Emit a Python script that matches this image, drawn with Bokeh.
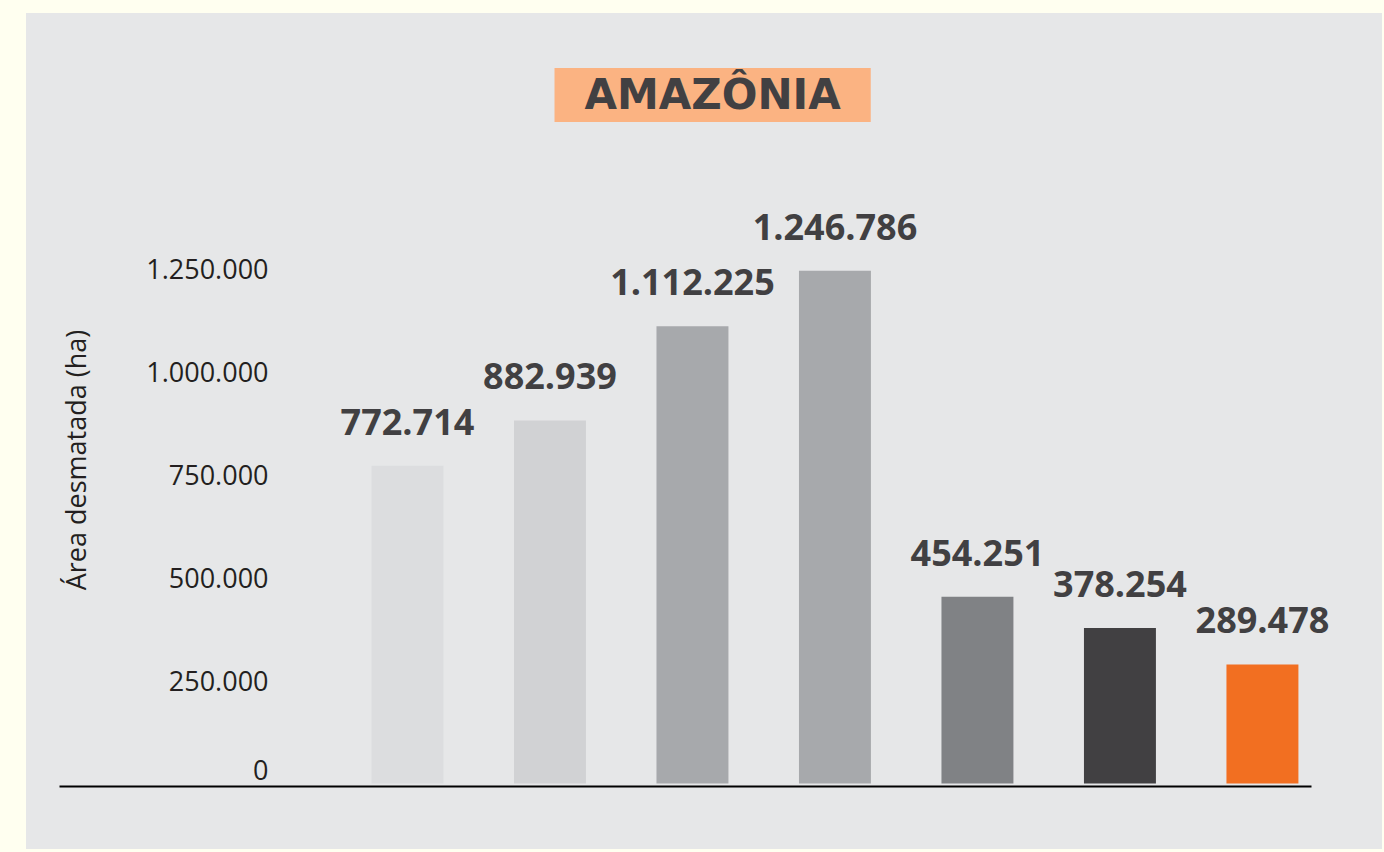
from bokeh.plotting import figure
from bokeh.models import Range1d, LinearAxis, FixedTicker, ColumnDataSource, Spacer
from bokeh.layouts import row, column
from bokeh.embed import file_html
from bokeh.resources import INLINE
from bokeh.core.properties import value

# ---- data ----
bar_values = [772714, 882939, 1112225, 1246786, 454251, 378254, 289478]
bar_colors = ["#dcdddf", "#d1d2d4", "#a7a9ac", "#a7a9ac", "#808285", "#414042", "#f26f21"]
bar_index = list(range(len(bar_values)))
bar_labels = [f"{v:,}".replace(",", ".") for v in bar_values]

y_ticks = [250000, 500000, 750000, 1000000, 1250000]
y_tick_labels = ["250.000", "500.000", "750.000", "1.000.000", "1.250.000"]
zero_ticks = [0]
zero_tick_labels = ["0"]

title_text = "AMAZÔNIA"
y_label = "Área desmatada (ha)"

PANEL = "#e6e7e8"
IVORY = "#fffff0"
DARK = "#414042"

Y0, Y1 = -7300, 1580700
X0, X1 = -2.442, 6.611
AXIS_X = -0.905

p = figure(width=1356, height=836, output_backend="svg", toolbar_location=None,
           x_range=Range1d(X0, X1), y_range=Range1d(Y0, Y1),
           y_axis_location=None, title=title_text,
           min_border_left=33, min_border_right=33, min_border_top=120, min_border_bottom=63)
p.background_fill_color = None
p.border_fill_color = PANEL
p.styles = {"background-color": PANEL}
p.outline_line_color = None
p.xgrid.visible = False
p.ygrid.visible = False

# title box
p.title.align = "left"
p.title.offset = 495
p.title.vertical_align = "bottom"
p.title.standoff = 23
p.title.text_font = "DejaVu Sans"
p.title.text_font_style = "bold"
p.title.text_font_size = "42px"
p.title.text_color = DARK
p.title.background_fill_color = "#fbb382"
p.title.padding = dict(left=30, right=30, top=2, bottom=3)

# baseline (x axis)
xa = p.xaxis[0]
xa.axis_line_color = "black"
xa.axis_line_width = 2
xa.bounds = (X0, 6.344)
xa.major_tick_line_color = None
xa.minor_tick_line_color = None
xa.major_label_text_font_size = "0px"
xa.ticker = FixedTicker(ticks=[])

# bars
src = ColumnDataSource(dict(x=bar_index, top=bar_values, color=bar_colors, label=bar_labels))
p.vbar(x="x", top="top", bottom=0, width=0.505, color="color", line_color=None, source=src)
p.text(x="x", y="top", text="label", source=src, text_font=value("Open Sans"),
       text_font_style="bold", text_font_size="36px", text_color=DARK,
       text_align="center", text_baseline="alphabetic", y_offset=-44)

def style_y(ax):
    ax.axis_line_color = None
    ax.major_tick_line_color = None
    ax.minor_tick_line_color = None
    ax.major_label_standoff = 4
    ax.major_label_text_font = "Open Sans"
    ax.major_label_text_font_size = "27px"
    ax.major_label_text_color = "#231f20"

# y axis (main ticks)
ya = LinearAxis(ticker=FixedTicker(ticks=y_ticks), fixed_location=AXIS_X)
ya.major_label_overrides = {t: l for t, l in zip(y_ticks, y_tick_labels)}
style_y(ya)
ya.axis_label = y_label
ya.axis_label_text_font = "Open Sans"
ya.axis_label_text_font_style = "normal"
ya.axis_label_text_font_size = "27px"
ya.axis_label_text_color = "#231f20"
ya.axis_label_standoff = 49
p.add_layout(ya, "left")

# zero label axis (the "0" sits lifted above the baseline)
p.extra_y_ranges = {"zero": Range1d(Y0 - 34000, Y1 - 34000)}
za = LinearAxis(y_range_name="zero", ticker=FixedTicker(ticks=zero_ticks), fixed_location=AXIS_X)
za.major_label_overrides = {t: l for t, l in zip(zero_ticks, zero_tick_labels)}
style_y(za)
p.add_layout(za, "left")

layout = row(Spacer(width=26), column(Spacer(height=13), p))

html = file_html(layout, INLINE)
html = html.replace("<head>", "<head>\n<style>body{background:%s;}</style>" % IVORY, 1)
open("out.html", "w").write(html)
